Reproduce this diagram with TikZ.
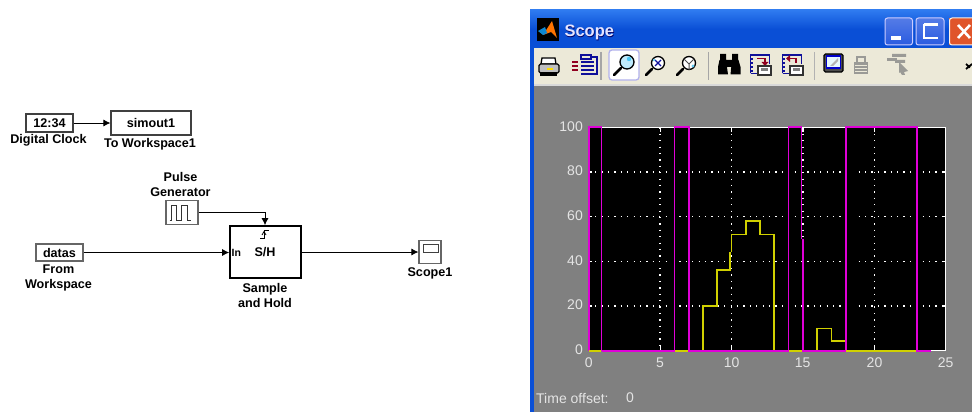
\documentclass[tikz,border=0pt]{standalone}
\usepackage{fontspec}
\setmainfont{Liberation Sans}
\usetikzlibrary{arrows.meta,calc}
\definecolor{titleblue}{HTML}{0A4FD6}
\definecolor{titlelight}{HTML}{2F7BF0}
\definecolor{tbbeige}{HTML}{ECE9D8}
\definecolor{wingray}{HTML}{808080}
\definecolor{magentaline}{HTML}{E000D8}
\definecolor{yellowline}{HTML}{D0D000}
\definecolor{axislabel}{HTML}{E4E4E4}
\definecolor{iconblue}{HTML}{10109A}
\definecolor{icondark}{HTML}{900020}
\definecolor{btnblue}{HTML}{2A5BE0}
\definecolor{btnred}{HTML}{E0552A}
\definecolor{disabled}{HTML}{9A9A96}
\tikzset{
  block/.style={draw=black!75,line width=1.1pt,fill=white,inner sep=0pt,font=\fontsize{12.6}{14}\selectfont\bfseries},
  lbl/.style={inner sep=0pt,align=center,font=\fontsize{12.6}{15}\selectfont\bfseries},
  sig/.style={draw=black,line width=0.9pt,-{Latex[length=7pt,width=7pt]}},
  gridline/.style={draw=white,line width=1.3pt,dash pattern=on 1.3pt off 5.1pt},
  axlab/.style={inner sep=0pt,text=axislabel,font=\fontsize{14}{14}\selectfont},
  magline/.style={draw=magentaline,line width=1.7pt,line join=miter},
  yelline/.style={draw=yellowline,line width=1.7pt,line join=miter},
  winbtn/.style={draw=white!80!blue,line width=1pt,rounded corners=2.5pt},
  blueicon/.style={draw=iconblue,line width=1.1pt},
}
\begin{document}
\begin{tikzpicture}[x=1pt,y=-1pt]
\useasboundingbox (0,0) rectangle (972,412);
\fill[white] (0,0) rectangle (972,412);

% ---- Simulink model ----
\node[block,minimum width=47pt,minimum height=18pt] (clock) at (49.5,123) {12:34};
\node[block,minimum width=80pt,minimum height=24pt] (simout) at (151,123) {simout1};
\node[lbl] (clocklbl) at (48.5,140.5) {Digital Clock};
\node[lbl] (simlbl) at (150,144.5) {To Workspace1};
\node[lbl] (pulselbl) at (180.5,184.5) {Pulse\\Generator};
\node[block,draw=black!60,minimum width=32pt,minimum height=24pt] (pulse) at (182,212.5) {};
\draw[line width=0.9pt,black!80] (169.5,220) -- (171,220) -- (171,205) -- (176.5,205) -- (176.5,220) -- (181,220) -- (181,205) -- (187,205) -- (187,220) -- (191,220);
\node[block,draw=black!60,minimum width=47pt,minimum height=17pt] (datas) at (59.5,252.5) {datas};
\node[lbl] (fromlbl) at (58.5,277.5) {From\\Workspace};
\node[block,draw=black,line width=2pt,minimum width=71pt,minimum height=52pt] (sh) at (265.7,252) {};
\node[inner sep=0pt,font=\fontsize{12.6}{14}\selectfont\bfseries] (shtxt) at (265,252.5) {S/H};
\node[inner sep=0pt,anchor=west,font=\fontsize{10.5}{12}\selectfont\bfseries] (intxt) at (231.5,252.5) {In};
\draw[line width=0.9pt] (260,238.5) -- (264,238.5) -- (264,230) -- (269,230);
\draw[line width=0.8pt] (262,235) -- (264,231.5) -- (266,235);
\node[lbl] (shlbl) at (265,295.5) {Sample\\and Hold};
\node[block,draw=black!60,minimum width=22pt,minimum height=23pt] (scope) at (430,252) {};
\node[draw=black!75,line width=0.9pt,fill=white,inner sep=0pt,minimum width=15pt,minimum height=8pt] (screen) at (430.5,248) {};
\node[lbl] (scopelbl) at (430,273) {Scope1};
\coordinate (pulseout) at ($(pulse.east)+(0,-0.5)$);
\coordinate (trig) at (265,225.2);
\draw[sig] (clock.east) -- (simout.west);
\draw[sig] (pulseout) -| (trig);
\draw[sig] (datas.east) -- (sh.west |- datas.east);
\draw[sig] (sh.east) -- (scope.west);

% ---- Scope window ----
\shade[top color=titlelight,bottom color=titleblue,middle color=titleblue] (530,10) rectangle (972,48);
\fill[titleblue] (530,48) rectangle (534,412);
\fill[tbbeige] (534,48) rectangle (972,84);
\fill[white!85!black] (534,84) rectangle (972,86);
\fill[wingray] (534,86) rectangle (972,412);

% title
\fill[black] (537,18) rectangle (559,41);
\fill[orange!90!red] (543,35) -- (552,21) -- (557,38) -- (551,32) -- cycle;
\fill[cyan!70!blue] (538,31) -- (545,27) -- (547,33) -- (543,35) -- cycle;
\node[inner sep=0pt,anchor=west,text=black!60!blue,font=\fontsize{16.5}{16}\selectfont\bfseries] (titleshadow) at (565,33.6) {Scope};
\node[inner sep=0pt,anchor=west,text=white!90!blue,font=\fontsize{16.5}{16}\selectfont\bfseries] (title) at (564.3,32.8) {Scope};
% window buttons
\shade[winbtn,top color=btnblue!80,bottom color=btnblue] (885,18) rectangle (912.5,45);
\fill[white] (891,36) rectangle (901,40);
\shade[winbtn,top color=btnblue!80,bottom color=btnblue] (916,18) rectangle (944,45);
\draw[white,line width=1.4pt] (938,25) -- (924,25) -- (924,38) -- (938,38);
\fill[white] (924,23.5) rectangle (938,26.5);
\fill[btnred] (949,18) rectangle (972,45);
\draw[white!90!orange,line width=1pt] (972,18) -- (952,18) arc[start angle=90,end angle=180,radius=2.5pt] -- (949.5,42.5) arc[start angle=180,end angle=270,radius=2.5pt] -- (972,45);
\draw[white,line width=2.6pt] (958,25) -- (970,38) (970,25) -- (958,38);

% toolbar: printer
\draw[black,line width=1.3pt,fill=white] (542,58) -- (555,58) -- (556,64) -- (541,64) -- cycle;
\draw[black,line width=1.3pt,fill=white!75!black,rounded corners=1.5pt] (539,64) rectangle (559,73);
\fill[yellow!80!orange] (547,68) rectangle (553,70);
\draw[black,line width=1.3pt,fill=white] (541,73) rectangle (556,75);
% toolbar: property sheet
\draw[blueicon] (581,55) rectangle (591,59);
\draw[blueicon] (591,57) -- (597,57) -- (597,74) -- (581,74);
\draw[icondark,line width=1.3pt] (572,62) -- (578,62) (572,66) -- (578,66) (572,70) -- (578,70);
\draw[blueicon] (581,62) -- (594,62) (581,66) -- (594,66) (581,70) -- (594,70);
\draw[black!35,line width=1.1pt] (601,52) -- (601,80);
% zoom active button
\draw[black!25!blue!30!white,line width=1.3pt,fill=white,rounded corners=3pt] (609,50) rectangle (639,80);
\draw[black,line width=2.5pt,line cap=round] (614,75) -- (621,68);
\draw[black,line width=1.3pt,fill=cyan!25] (627,62) circle[radius=7pt];
\fill[cyan!70] (629,59) circle[radius=2.2pt];
% zoom x
\draw[black,line width=2.5pt,line cap=round] (646,75) -- (652,69);
\draw[black,line width=1.3pt,fill=white] (658,63) circle[radius=6.5pt];
\draw[iconblue,line width=1.1pt] (655,60) -- (661,66) (661,60) -- (655,66);
\fill[cyan!60] (654,60) circle[radius=1.4pt];
% zoom y
\draw[black,line width=2.5pt,line cap=round] (677,75) -- (683,69);
\draw[black,line width=1.3pt,fill=white] (689,63) circle[radius=6.5pt];
\draw[black!70,line width=1pt] (689,64) -- (689,70) (689,64) -- (684,59) (689,64) -- (694,59);
\fill[cyan!60] (693,66) circle[radius=1.6pt];
\draw[black!35,line width=1.1pt] (708.5,52) -- (708.5,80);
% binoculars
\fill[black] (720,54) rectangle (726,60) (732,54) rectangle (738,60) (725,60) rectangle (733,67);
\fill[black] (719.5,60) -- (726,60) -- (728,74.5) -- (718,74.5) -- (718,67) -- cycle;
\fill[black] (732,60) -- (738.5,60) -- (740.5,67) -- (740.5,74.5) -- (730.5,74.5) -- cycle;
% restore/save axes icons
\draw[blueicon] (750.5,73.5) -- (750.5,55) -- (769.5,55) -- (769.5,64) (750.5,73.5) -- (758,73.5);
\draw[blueicon] (750.5,59) -- (753,59) (750.5,63) -- (753,63) (750.5,67) -- (753,67) (750.5,71) -- (753,71);
\draw[icondark,line width=1.5pt] (757,58.5) -- (765,58.5) -- (765,63);
\fill[icondark] (761.5,62) -- (768.5,62) -- (765,66) -- cycle;
\draw[black!80,line width=1.1pt,fill=white] (758,66) rectangle (771,75);
\fill[black!50] (761,68) rectangle (768,71);
\draw[blueicon] (782.5,73.5) -- (782.5,55) -- (801.5,55) -- (801.5,64) (782.5,73.5) -- (790,73.5);
\draw[blueicon] (782.5,59) -- (785,59) (782.5,63) -- (785,63) (782.5,67) -- (785,67) (782.5,71) -- (785,71);
\draw[icondark,line width=1.5pt] (796,63) -- (796,58.5) -- (789,58.5);
\fill[icondark] (790,55) -- (790,62) -- (786,58.5) -- cycle;
\draw[black!80,line width=1.1pt,fill=white] (790,66) rectangle (803,75);
\fill[black!50] (793,68) rectangle (800,71);
\draw[white!70!black,line width=1.1pt] (814.5,52) -- (814.5,80);
% chip icon
\draw[black,line width=1.3pt,fill=black!70,rounded corners=1.5pt] (824,54) rectangle (843,72);
\draw[blue!80!black,line width=1.5pt,fill=cyan!10] (826.5,56) rectangle (840.5,68);
\fill[white!70!black] (830,66) -- (838,58) -- (838,61) -- (833,66) -- cycle;
% disabled lock
\draw[disabled,line width=2pt] (857,62) -- (857,57) -- (865,57) -- (865,62);
\fill[disabled] (854,62) rectangle (868,74);
\draw[tbbeige,line width=0.5pt] (855,65) -- (867,65) (855,68) -- (867,68) (855,71) -- (867,71);
% disabled arrow
\fill[disabled] (887,58.5) rectangle (897,61.5);
\fill[disabled] (892,54) rectangle (906,57) (895,60) rectangle (905,63);
\fill[disabled] (899,62) -- (908,71) -- (904,72) -- (905,75) -- (902,75) -- (900,72) -- (899,73) -- cycle;
% overflow arrow
\draw[black,line width=1.8pt] (966,64) -- (970,67.5) (972,64) -- (966,69);

% axes
\fill[black] (588.7,127.3) rectangle (945.7,350.7);
\begin{scope}[shift={(588.7,350.7)},x=14.28pt,y=2.234pt]
  \draw[white,line width=1.4pt] (0,0) -- (25,0) -- (25,100) -- (0,100) -- cycle;
  \foreach \yy in {20,40,60,80}{
    \draw[gridline] (0,\yy) -- (5.55,\yy);
    \draw[gridline] (6.35,\yy) -- (17.65,\yy);
    \draw[gridline] (18.9,\yy) -- (25,\yy);
    \draw[white,line width=1.2pt] (0,\yy) -- (0.2,\yy) (25,\yy) -- (24.8,\yy);
  }
  \foreach \xx in {5,10,15,20}{
    \draw[gridline] (\xx,100) -- (\xx,41);
    \draw[gridline] (\xx,37) -- (\xx,0);
    \draw[white,line width=1.2pt] (\xx,0) -- (\xx,2) (\xx,100) -- (\xx,98);
  }
  % yellow trace
  \draw[yelline] (8,0) -- (8,20) -- (9,20) -- (9,36) -- (9.9,36) -- (9.9,44);
  \draw[yelline] (10,44) -- (10,52) -- (11,52) -- (11,58) -- (12,58) -- (12,52) -- (13,52) -- (13,0);
  \draw[yelline] (16,0) -- (16,10) -- (17,10) -- (17,4.3) -- (18,4.3);
  % magenta trace
  \draw[magline] (0,0) -- (0,100) -- (0.9,100) -- (0.9,0);
  \draw[magline] (0.9,0) -- (6,0) -- (6,100) -- (7,100) -- (7,0) -- (8,0);
  \draw[magline] (8,0) -- (14,0) -- (14,100) -- (14.9,100) -- (14.9,50);
  \draw[magline] (15,50) -- (15,0) -- (16,0);
  \draw[magline] (16,0) -- (18,0) -- (18,100) -- (23,100) -- (23,0) -- (24,0);
  % yellow where it lies on top of the magenta at zero
  \draw[yelline] (0,0) -- (0.85,0);
  \draw[yelline] (6.05,0) -- (6.95,0);
  \draw[yelline] (14.05,0) -- (14.95,0);
  \draw[yelline] (18.05,0) -- (22.95,0);
\end{scope}
% axis labels
\foreach \v/\yy in {100/127.3,80/172,60/216.6,40/261.3,20/306,0/350.7}{
  \node[axlab,anchor=east] (yl\v) at (583,\yy-1) {\v};
}
\foreach \v/\xx in {0/588.7,5/660,10/731.7,15/802.7,20/874.5,25/945.7}{
  \node[axlab] (xl\v) at (\xx,363) {\v};
}
\node[axlab,anchor=west] (offset) at (536,398) {Time offset:};
\node[axlab,anchor=west] (offval) at (626,398) {0};
\end{tikzpicture}
\end{document}
